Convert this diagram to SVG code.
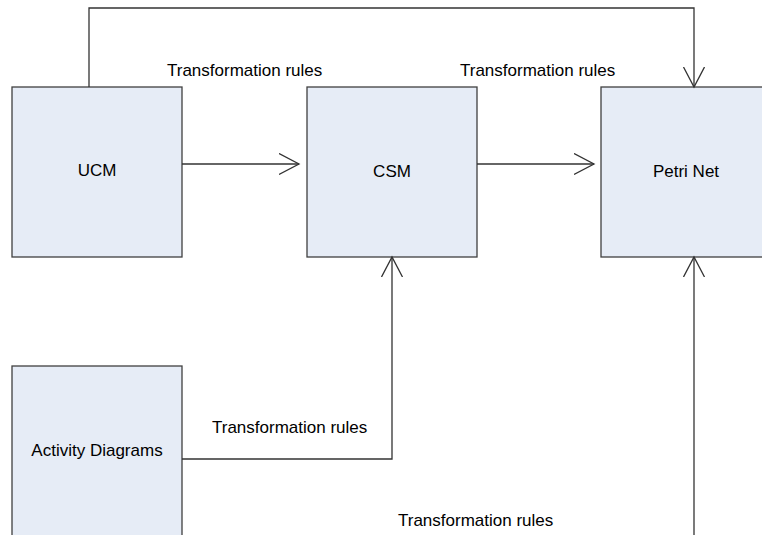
<svg xmlns="http://www.w3.org/2000/svg" width="762" height="535" viewBox="0 0 762 535">
<style>
.box{fill:#E6ECF6;stroke:#404040;stroke-width:1.3}
.lbl{font-family:"Liberation Sans",Arial,sans-serif;font-size:17px;fill:#000}
.mid{text-anchor:middle}
.con{fill:none;stroke:#333;stroke-width:1.3}
</style>
<defs>
<marker id="arr" markerWidth="22" markerHeight="24" refX="20" refY="11" orient="auto" markerUnits="userSpaceOnUse">
<path d="M0,0.5 L20,11 L0,21.5" fill="none" stroke="#333" stroke-width="1.3"/>
</marker>
</defs>
<rect width="762" height="535" fill="#fff"/>
<g id="ucm"><rect class="box" x="12" y="87" width="170" height="170"/><text class="lbl mid" x="97" y="176">UCM</text></g>
<g id="csm"><rect class="box" x="307" y="87" width="170" height="170"/><text class="lbl mid" x="392" y="177">CSM</text></g>
<g id="petri"><rect class="box" x="601" y="87" width="170" height="170"/><text class="lbl mid" x="686" y="177">Petri Net</text></g>
<g id="activity"><rect class="box" x="12" y="366" width="170" height="185"/><text class="lbl mid" x="97" y="456">Activity Diagrams</text></g>
<g id="connectors">
<path class="con" d="M89,87 V8 H694 V87" marker-end="url(#arr)"/>
<path class="con" d="M182,164 H299" marker-end="url(#arr)"/>
<path class="con" d="M477,164 H594" marker-end="url(#arr)"/>
<path class="con" d="M182,459 H392 V257" marker-end="url(#arr)"/>
<path class="con" d="M694,540 V257" marker-end="url(#arr)"/>
</g>
<g id="labels">
<text class="lbl" x="167" y="76">Transformation rules</text>
<text class="lbl" x="460" y="76">Transformation rules</text>
<text class="lbl" x="212" y="433">Transformation rules</text>
<text class="lbl" x="398" y="526">Transformation rules</text>
</g>
</svg>
